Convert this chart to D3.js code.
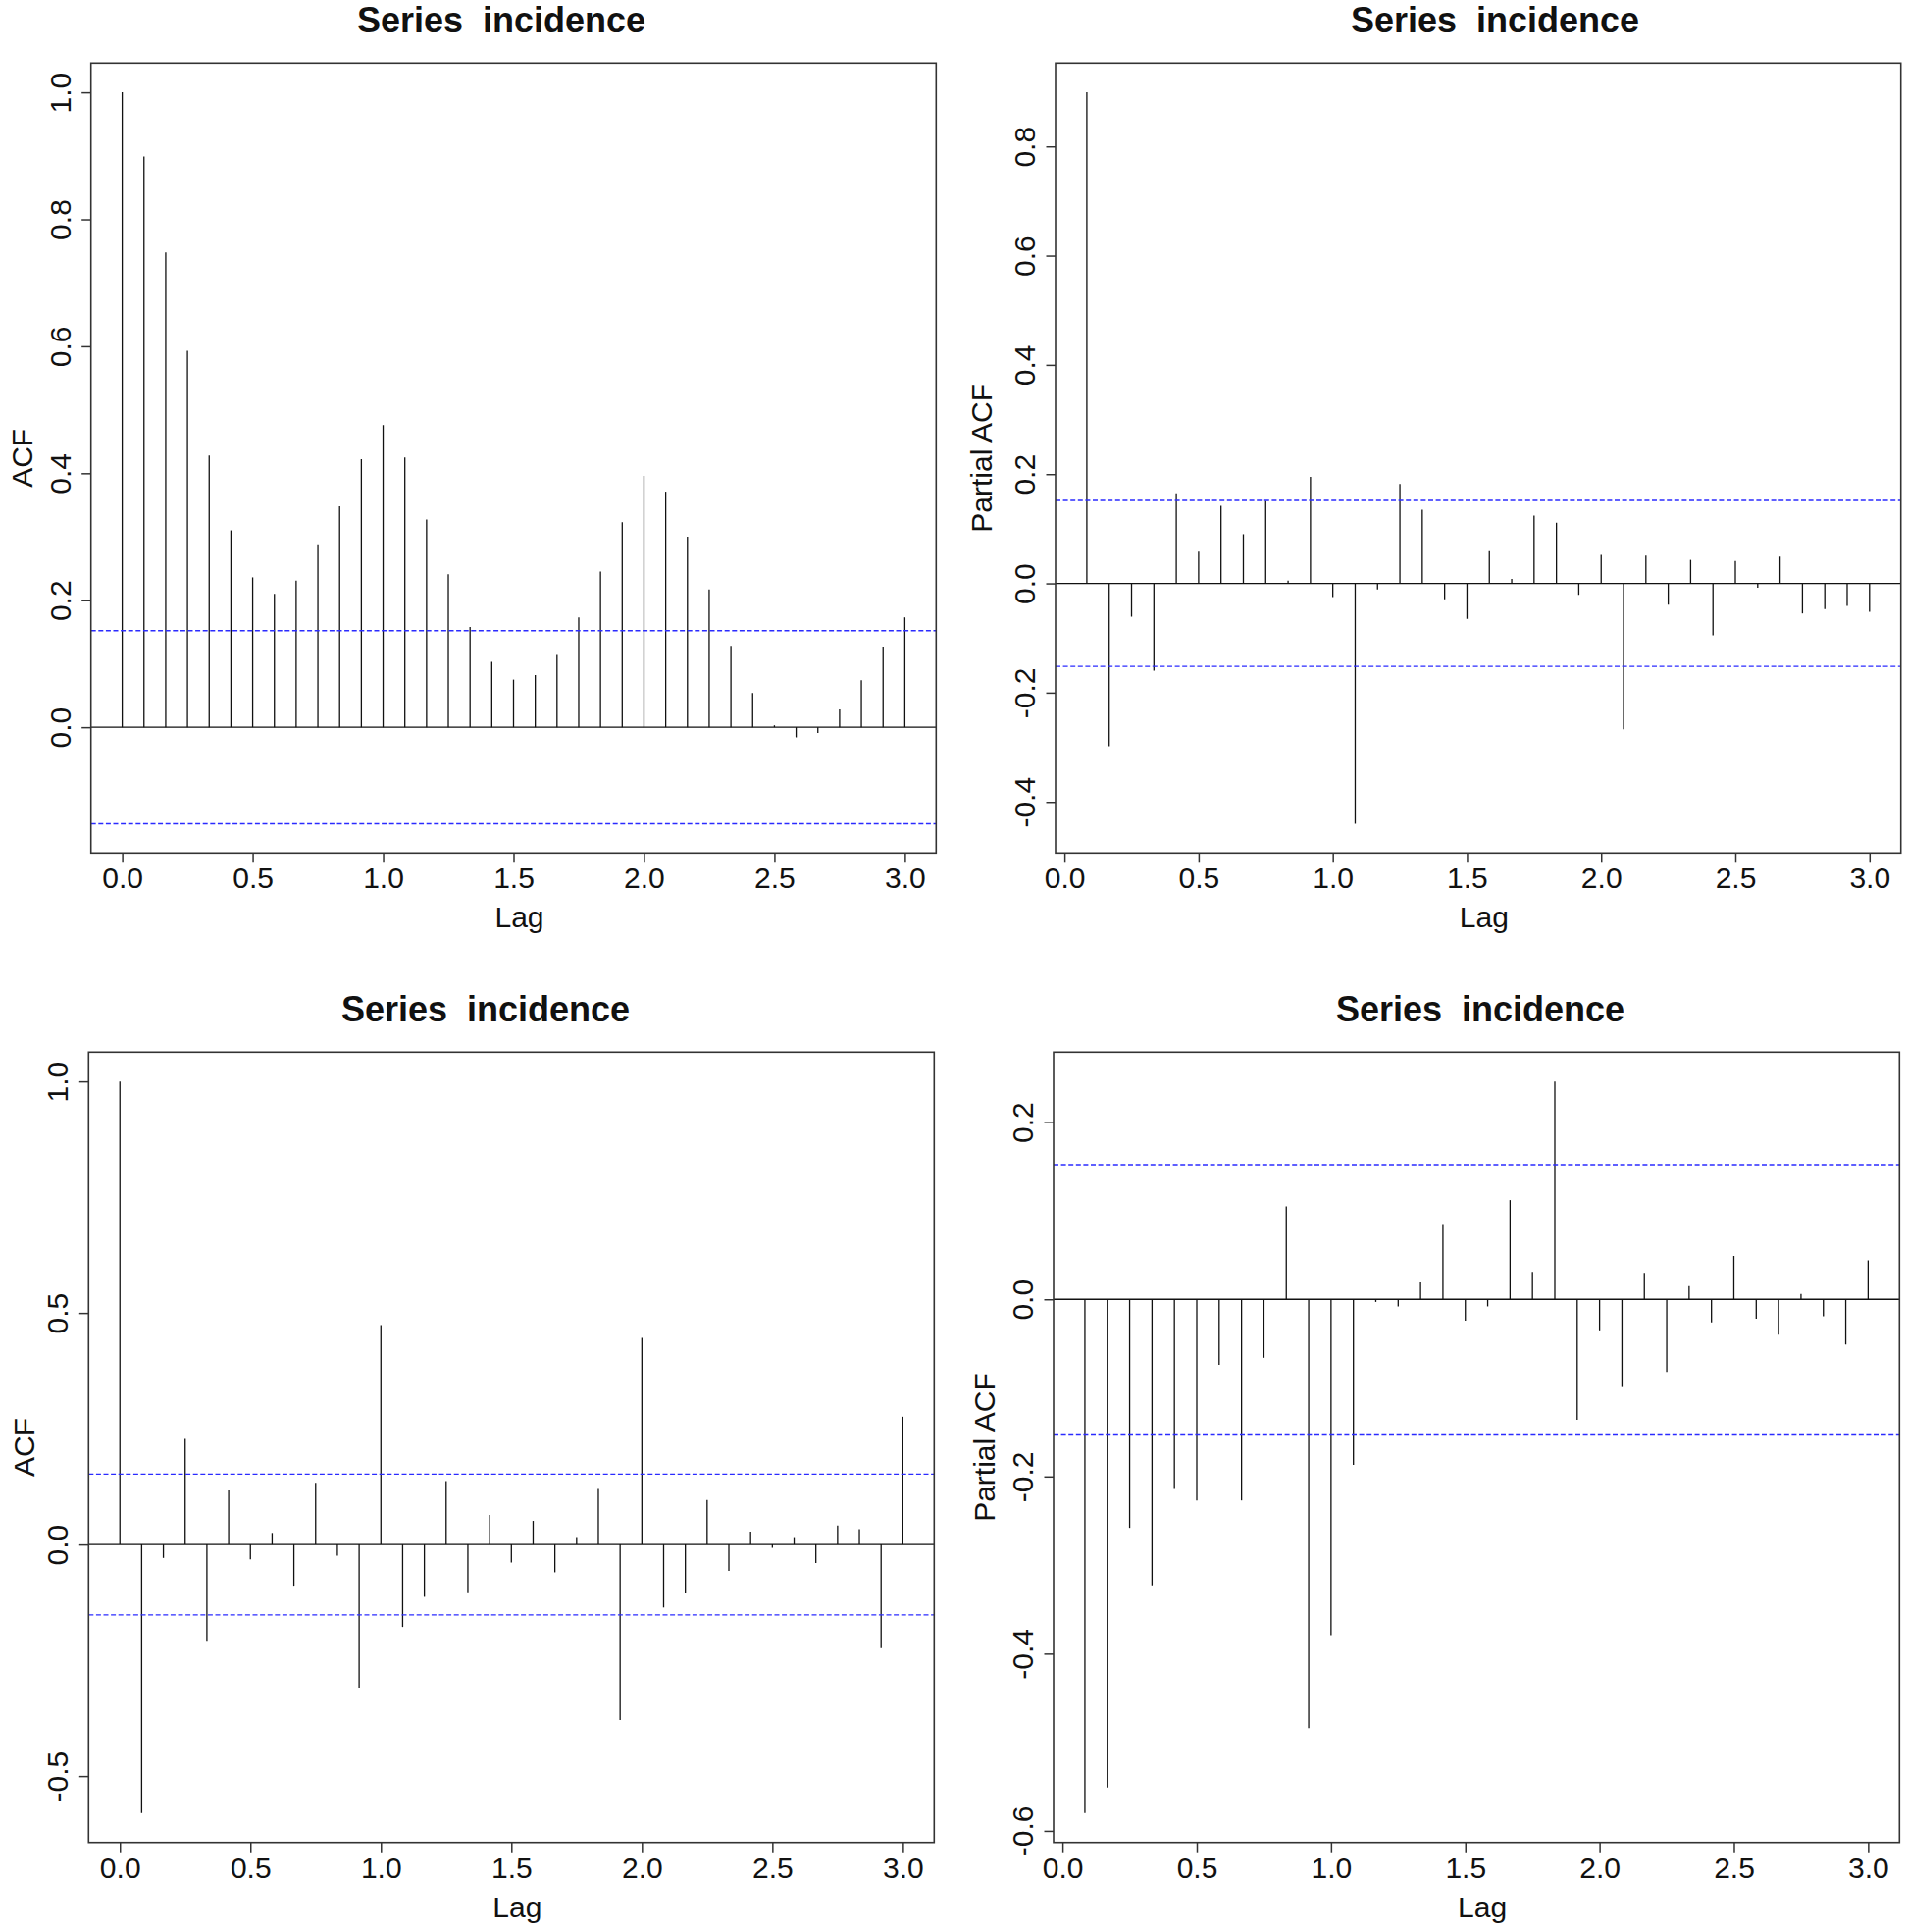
<!DOCTYPE html>
<html>
<head>
<meta charset="utf-8">
<script src="https://cdn.jsdelivr.net/npm/d3@7"></script>
<style>
  html, body { margin: 0; padding: 0; background: #fff; }
  svg { display: block; }
  text { font-family: "Liberation Sans", Arial, Helvetica, sans-serif; fill: #111; }
</style>
</head>
<body>
<svg id="chart" width="1944" height="1969"></svg>
<script>
// ---------------- data ----------------
const frequency = 12;
const acfMonths  = [0,1,2,3,4,5,6,7,8,9,10,11,12,13,14,15,16,17,18,19,20,21,22,23,24,25,26,27,28,29,30,31,32,33,34,35,36];
const pacfMonths = [1,2,3,4,5,6,7,8,9,10,11,12,13,14,15,16,17,18,19,20,21,22,23,24,25,26,27,28,29,30,31,32,33,34,35,36];

// top-left: ACF of incidence
const acfTop = [1.000, 0.899, 0.748, 0.593, 0.428, 0.310, 0.236, 0.210, 0.231, 0.288, 0.348, 0.422, 0.476,
                0.425, 0.327, 0.241, 0.158, 0.103, 0.075, 0.082, 0.114, 0.173, 0.245, 0.323, 0.396,
                0.371, 0.300, 0.217, 0.128, 0.054, 0.003, -0.016, -0.009, 0.028, 0.074, 0.127, 0.173];
// top-right: PACF of incidence
const pacfTop = [0.899, -0.298, -0.061, -0.160, 0.165, 0.058, 0.142, 0.090, 0.151, 0.005, 0.195, -0.025,
                 -0.440, -0.011, 0.182, 0.135, -0.029, -0.065, 0.059, 0.008, 0.124, 0.111, -0.021, 0.052,
                 -0.267, 0.051, -0.039, 0.043, -0.095, 0.041, -0.008, 0.049, -0.055, -0.047, -0.041, -0.052];
// bottom-left: ACF (differenced)
const acfBottom = [1.000, -0.580, -0.029, 0.228, -0.208, 0.117, -0.032, 0.025, -0.089, 0.133, -0.024, -0.309, 0.474,
                   -0.178, -0.113, 0.137, -0.103, 0.064, -0.039, 0.051, -0.060, 0.016, 0.120, -0.379, 0.446,
                   -0.136, -0.105, 0.096, -0.057, 0.028, -0.007, 0.016, -0.040, 0.041, 0.033, -0.224, 0.276];
// bottom-right: PACF (differenced)
const pacfBottom = [-0.580, -0.551, -0.258, -0.323, -0.214, -0.227, -0.074, -0.227, -0.066, 0.105, -0.484, -0.379,
                    -0.187, -0.003, -0.008, 0.019, 0.085, -0.024, -0.008, 0.112, 0.031, 0.246, -0.136, -0.035,
                    -0.099, 0.030, -0.082, 0.015, -0.026, 0.049, -0.022, -0.040, 0.006, -0.019, -0.051, 0.044];

const ciTop = 0.152;
const ciBottom = 0.152;

const xTickLabels = ["0.0","0.5","1.0","1.5","2.0","2.5","3.0"];
const xTicks = [0, 0.5, 1, 1.5, 2, 2.5, 3];
const yTicksTL = [0, 0.2, 0.4, 0.6, 0.8, 1.0];
const yTicksTR = [-0.4, -0.2, 0, 0.2, 0.4, 0.6, 0.8];
const yTicksBL = [-0.5, 0, 0.5, 1.0];
const yTicksBR = [-0.6, -0.4, -0.2, 0, 0.2];

const titleText = "Series  incidence";

// ---------------- layout ----------------
const panels = [
  { months: acfMonths,  vals: acfTop,     ci: ciTop,    yTicks: yTicksTL, ylab: "ACF",
    box: {x0: 92.7, x1: 954.3, y0: 64.3, y1: 869.3}, titleX: 511, ylabOff: 60 },
  { months: pacfMonths, vals: pacfTop,    ci: ciTop,    yTicks: yTicksTR, ylab: "Partial ACF",
    box: {x0: 1076, x1: 1937.7, y0: 64.3, y1: 869.3}, titleX: 1524, ylabOff: 65 },
  { months: acfMonths,  vals: acfBottom,  ci: ciBottom, yTicks: yTicksBL, ylab: "ACF",
    box: {x0: 90.3, x1: 952.3, y0: 1072.3, y1: 1877.7}, titleX: 495, ylabOff: 55 },
  { months: pacfMonths, vals: pacfBottom, ci: ciBottom, yTicks: yTicksBR, ylab: "Partial ACF",
    box: {x0: 1074, x1: 1936.3, y0: 1072.3, y1: 1877.7}, titleX: 1509, ylabOff: 60 }
];

const svg = d3.select("#chart");
svg.append("rect").attr("width", 1944).attr("height", 1969).attr("fill", "#fff");

function rExtend(ext) {
  const d = (ext[1] - ext[0]) * 0.04;
  return [ext[0] - d, ext[1] + d];
}

panels.forEach(p => {
  const b = p.box;
  const lags = p.months.map(m => m / frequency);
  const x = d3.scaleLinear().domain(rExtend(d3.extent(lags))).range([b.x0, b.x1]);
  const yExt = d3.extent(p.vals.concat([-p.ci, p.ci]));
  const y = d3.scaleLinear().domain(rExtend(yExt)).range([b.y1, b.y0]);

  const g = svg.append("g");

  // bars (spikes)
  g.selectAll("line.spike").data(p.vals).enter().append("line")
    .attr("class", "spike")
    .attr("x1", (d, i) => x(lags[i])).attr("x2", (d, i) => x(lags[i]))
    .attr("y1", y(0)).attr("y2", d => y(d))
    .attr("stroke", "#111").attr("stroke-width", 1.3);

  // zero line
  g.append("line")
    .attr("x1", b.x0).attr("x2", b.x1).attr("y1", y(0)).attr("y2", y(0))
    .attr("stroke", "#111").attr("stroke-width", 1.3);

  // confidence lines
  [p.ci, -p.ci].forEach(c => {
    g.append("line")
      .attr("x1", b.x0).attr("x2", b.x1).attr("y1", y(c)).attr("y2", y(c))
      .attr("stroke", "#2b2bff").attr("stroke-width", 1.4)
      .attr("stroke-dasharray", "5,2.6");
  });

  // box
  g.append("rect")
    .attr("x", b.x0).attr("y", b.y0).attr("width", b.x1 - b.x0).attr("height", b.y1 - b.y0)
    .attr("fill", "none").attr("stroke", "#333").attr("stroke-width", 1.6);

  // x axis
  const xa = g.append("g").attr("transform", `translate(0,${b.y1})`)
    .call(d3.axisBottom(x).tickValues(xTicks).tickSize(10).tickSizeOuter(0)
      .tickFormat((d, i) => xTickLabels[i]));
  xa.select(".domain").remove();
  xa.selectAll(".tick line").attr("stroke", "#333").attr("stroke-width", 1.5);
  xa.selectAll(".tick text").attr("y", 36).attr("dy", 0)
    .style("font-size", "30px").style("font-family", '"Liberation Sans", Arial, sans-serif').attr("fill", "#111");

  // y axis
  const ya = g.append("g").attr("transform", `translate(${b.x0},0)`)
    .call(d3.axisLeft(y).tickValues(p.yTicks).tickSize(9.5).tickSizeOuter(0)
      .tickFormat(d3.format(".1f")));
  ya.select(".domain").remove();
  ya.selectAll(".tick line").attr("stroke", "#333").attr("stroke-width", 1.5);
  ya.selectAll(".tick text")
    .attr("x", null).attr("dy", null)
    .attr("transform", "translate(-21,0) rotate(-90)")
    .attr("text-anchor", "middle")
    .text(d => d3.format(".1f")(d).replace("\u2212", "-"))
    .style("font-size", "30px").style("font-family", '"Liberation Sans", Arial, sans-serif').attr("fill", "#111");

  // axis labels
  g.append("text")
    .attr("x", (b.x0 + b.x1) / 2 + 6).attr("y", b.y1 + 76)
    .attr("text-anchor", "middle").style("font-size", "30px")
    .text("Lag");
  g.append("text")
    .attr("transform", `translate(${b.x0 - p.ylabOff},${(b.y0 + b.y1) / 2}) rotate(-90)`)
    .attr("text-anchor", "middle").style("font-size", "30px")
    .text(p.ylab);

  // title
  g.append("text")
    .attr("x", p.titleX).attr("y", b.y0 - 31)
    .attr("text-anchor", "middle")
    .style("font-size", "36px").style("font-weight", "bold").style("white-space", "pre")
    .text(titleText);
});
</script>
</body>
</html>
